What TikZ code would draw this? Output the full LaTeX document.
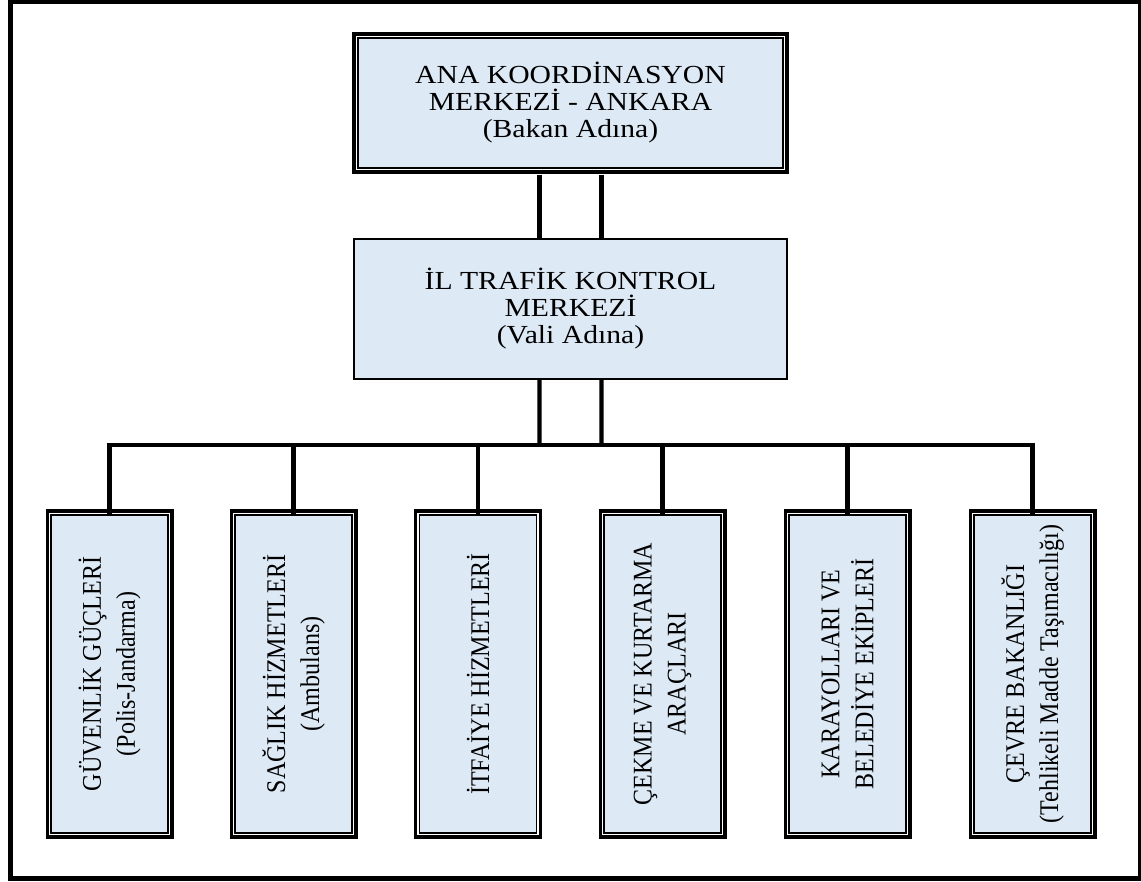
\documentclass[tikz,border=0pt]{standalone}
\usepackage{fontspec}
\setmainfont[FakeStretch=1.14]{Liberation Serif}
\newfontfamily\tallfont[FakeStretch=0.89]{Liberation Serif}
\usepackage{tikz}
\usetikzlibrary{arrows,shapes}
\usetikzlibrary{positioning}
\definecolor{boxblue}{RGB}{221,233,245}
\tikzstyle{org}=[x=0.025cm, y=-0.025cm, line join=miter]
\tikzstyle{dblbox}=[draw=black, line width=0.9pt, fill=boxblue, inner sep=0pt,
                preaction={draw=black, line width=7.8pt},
                preaction={draw=white, line width=3.1pt}]
\tikzstyle{headbox}=[dblbox, minimum width=10.625cm, minimum height=3.25cm,
                align=center, font=\fontsize{18.5}{19.2}\selectfont]
\tikzstyle{midbox}=[draw=black, line width=1.2pt, fill=boxblue, inner sep=0pt,
                minimum width=10.825cm, minimum height=3.5cm,
                align=center, font=\fontsize{18.5}{19.2}\selectfont]
\tikzstyle{unit}=[dblbox, rotate=90, minimum width=7.95cm, minimum height=2.925cm,
                align=center, font=\tallfont\fontsize{19.2}{24.2}\selectfont]
\tikzstyle{link}=[line width=3pt]

\begin{document}
\begin{tikzpicture}[org]
\useasboundingbox (0,0) rectangle (1141,881);
\draw[line width=3pt] (10.5,2) rectangle (1140,878.5);

\node[headbox] (top) at (570.5,103)
  {ANA KOORDİNASYON\\MERKEZİ - ANKARA\\(Bakan Adına)};
\node[midbox] (mid) at (570.5,309)
  {İL TRAFİK KONTROL\\MERKEZİ\\(Vali Adına)};

\node[unit] (g1) at (109.5,674) {GÜVENLİK GÜÇLERİ\\(Polis-Jandarma)};
\node[unit] (g2) at (293.5,674) {SAĞLIK HİZMETLERİ\\(Ambulans)};
\node[unit] (g3) at (478,674) {İTFAİYE HİZMETLERİ};
\node[unit] (g4) at (662.5,674) {ÇEKME VE KURTARMA\\ARAÇLARI};
\node[unit] (g5) at (847.5,674) {KARAYOLLARI VE\\BELEDİYE EKİPLERİ};
\node[unit] (g6) at (1032.5,674) {ÇEVRE BAKANLIĞI\\(Tehlikeli Madde Taşımacılığı)};

\coordinate (bus) at (570.5,445);
\coordinate (stemL) at (539.5,445);
\coordinate (stemR) at (601.5,445);

\path[link]
  ([xshift=-0.775cm,yshift=-0.15cm]top.south) edge ([xshift=-0.775cm]mid.north)
  ([xshift=0.775cm,yshift=-0.15cm]top.south) edge ([xshift=0.775cm]mid.north)
  ([xshift=-0.775cm]mid.south) edge (stemL)
  ([xshift=0.775cm]mid.south) edge (stemR);
\draw[link] (g1.east) -- (g1.east |- bus) -- (g6.east |- bus) -- (g6.east);
\path[link]
  (g2.east |- bus) edge (g2.east)
  (g3.east |- bus) edge (g3.east)
  (g4.east |- bus) edge (g4.east)
  (g5.east |- bus) edge (g5.east);
\end{tikzpicture}
\end{document}
